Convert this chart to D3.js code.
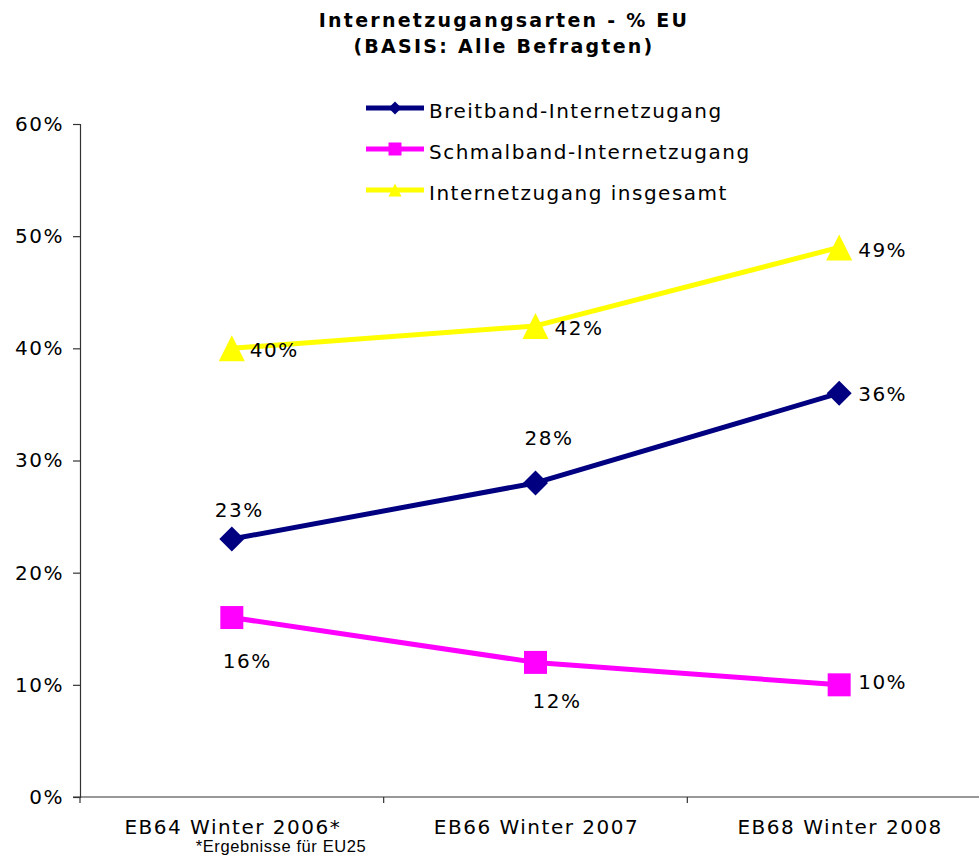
<!DOCTYPE html>
<html><head><meta charset="utf-8">
<script src="https://cdn.jsdelivr.net/npm/d3@7"></script>
<style>
html,body{margin:0;padding:0;background:#fff;}
svg{display:block;}
</style></head>
<body>
<svg id="chart" width="979" height="856"></svg>
<script>
// ---- data ----
const categories = ["EB64 Winter 2006*", "EB66 Winter 2007", "EB68 Winter 2008"];
const seriesNames = ["Breitband-Internetzugang", "Schmalband-Internetzugang", "Internetzugang insgesamt"];
const breitband = [23, 28, 36];
const schmalband = [16, 12, 10];
const insgesamt = [40, 42, 49];
const yTicks = [0, 10, 20, 30, 40, 50, 60];
const titleLines = ["Internetzugangsarten - % EU", "(BASIS: Alle Befragten)"];
const footnote = "*Ergebnisse für EU25";

// ---- styles ----
const colors = ["#000080", "#FF00FF", "#FFFF00"];
const markers = ["diamond", "square", "triangle"];
// label offsets [dx (start), dy (baseline)] per point
const labelOffsets = [
  [[-17, -22], [-11, -38], [19, 8]],
  [[-9, 50], [-3, 46], [19, 4]],
  [[18, 9], [19, 9], [19, 10]]
];
const LS = 1.5; // letter spacing for body text

const series = [breitband, schmalband, insgesamt];
const svg = d3.select("#chart");
const font = "'DejaVu Sans', Verdana, sans-serif";

const x = d3.scaleBand().domain(categories).range([80, 991]).padding(0);
const y = d3.scaleLinear().domain([0, 60]).range([797, 124]);

// title
svg.append("g").selectAll("text").data(titleLines).join("text")
  .attr("x", 504).attr("y", (d, i) => 27 + i * 26)
  .attr("text-anchor", "middle")
  .attr("font-family", font).attr("font-weight", "bold")
  .attr("font-size", 19).attr("letter-spacing", 2.25)
  .attr("fill", "#000").text(d => d);

// y axis
const yAxis = svg.append("g").attr("transform", "translate(80,0)")
  .call(d3.axisLeft(y).tickValues(yTicks).tickFormat(d => d + "%").tickSize(7).tickPadding(9));
yAxis.select(".domain").attr("stroke", "#333").attr("stroke-width", 1.2);
yAxis.selectAll(".tick line").attr("stroke", "#333").attr("stroke-width", 1.2);
yAxis.selectAll("text").attr("font-family", font).attr("font-size", 20)
  .attr("letter-spacing", LS).attr("fill", "#000");

// x axis
const bounds = categories.map(c => x(c)).concat([x.range()[1]]);
const xg = svg.append("g");
xg.append("line").attr("x1", 73).attr("x2", x.range()[1]).attr("y1", y(0)).attr("y2", y(0))
  .attr("stroke", "#333").attr("stroke-width", 1.2);
xg.selectAll("line.tk").data(bounds).join("line").attr("class", "tk")
  .attr("x1", d => d).attr("x2", d => d).attr("y1", y(0)).attr("y2", y(0) + 6)
  .attr("stroke", "#333").attr("stroke-width", 1.2);
xg.selectAll("text").data(categories).join("text")
  .attr("x", d => x(d) + x.bandwidth() / 2 + 1).attr("y", 834)
  .attr("text-anchor", "middle").attr("font-family", font).attr("font-size", 20)
  .attr("letter-spacing", LS).attr("fill", "#000").text(d => d);

svg.append("text").attr("x", 281).attr("y", 852).attr("text-anchor", "middle")
  .attr("font-family", "'Liberation Sans', Arial, sans-serif").attr("font-size", 16.5)
  .attr("letter-spacing", 0.6)
  .attr("fill", "#000").text(footnote);

function markerPath(type, s) {
  const h = s / 2;
  if (type === "diamond") return `M0,${-h}L${h},0L0,${h}L${-h},0Z`;
  if (type === "square") return `M${-h},${-h}H${h}V${h}H${-h}Z`;
  return `M0,${-h}L${h},${h}L${-h},${h}Z`;
}
const markerSizes = [25, 23, 26];

const line = d3.line().x((d, i) => x(categories[i]) + x.bandwidth() / 2).y(d => y(d));

series.forEach((vals, si) => {
  const g = svg.append("g");
  g.append("path").datum(vals).attr("d", line)
    .attr("fill", "none").attr("stroke", colors[si]).attr("stroke-width", 5)
    .attr("stroke-linejoin", "round");
  g.selectAll("path.mk").data(vals).join("path").attr("class", "mk")
    .attr("transform", (d, i) => `translate(${x(categories[i]) + x.bandwidth() / 2},${y(d)})`)
    .attr("d", markerPath(markers[si], markerSizes[si]))
    .attr("fill", colors[si]);
  g.selectAll("text").data(vals).join("text")
    .attr("x", (d, i) => x(categories[i]) + x.bandwidth() / 2 + labelOffsets[si][i][0])
    .attr("y", (d, i) => y(d) + labelOffsets[si][i][1])
    .attr("font-family", font).attr("font-size", 20).attr("letter-spacing", LS)
    .attr("fill", "#000").text(d => d + "%");
});

// legend
const legendY = [108, 149, 190];
const lg = svg.append("g").selectAll("g").data(seriesNames).join("g")
  .attr("transform", (d, i) => `translate(366,${legendY[i]})`);
lg.append("line").attr("x1", 0).attr("x2", 58).attr("y1", 0).attr("y2", 0)
  .attr("stroke", (d, i) => colors[i]).attr("stroke-width", 5);
lg.append("path").attr("transform", "translate(29,0)")
  .attr("d", (d, i) => markerPath(markers[i], 13)).attr("fill", (d, i) => colors[i]);
lg.append("text").attr("x", 63).attr("y", 10)
  .attr("font-family", font).attr("font-size", 20).attr("letter-spacing", LS)
  .attr("fill", "#000").text(d => d);
</script>
</body></html>
